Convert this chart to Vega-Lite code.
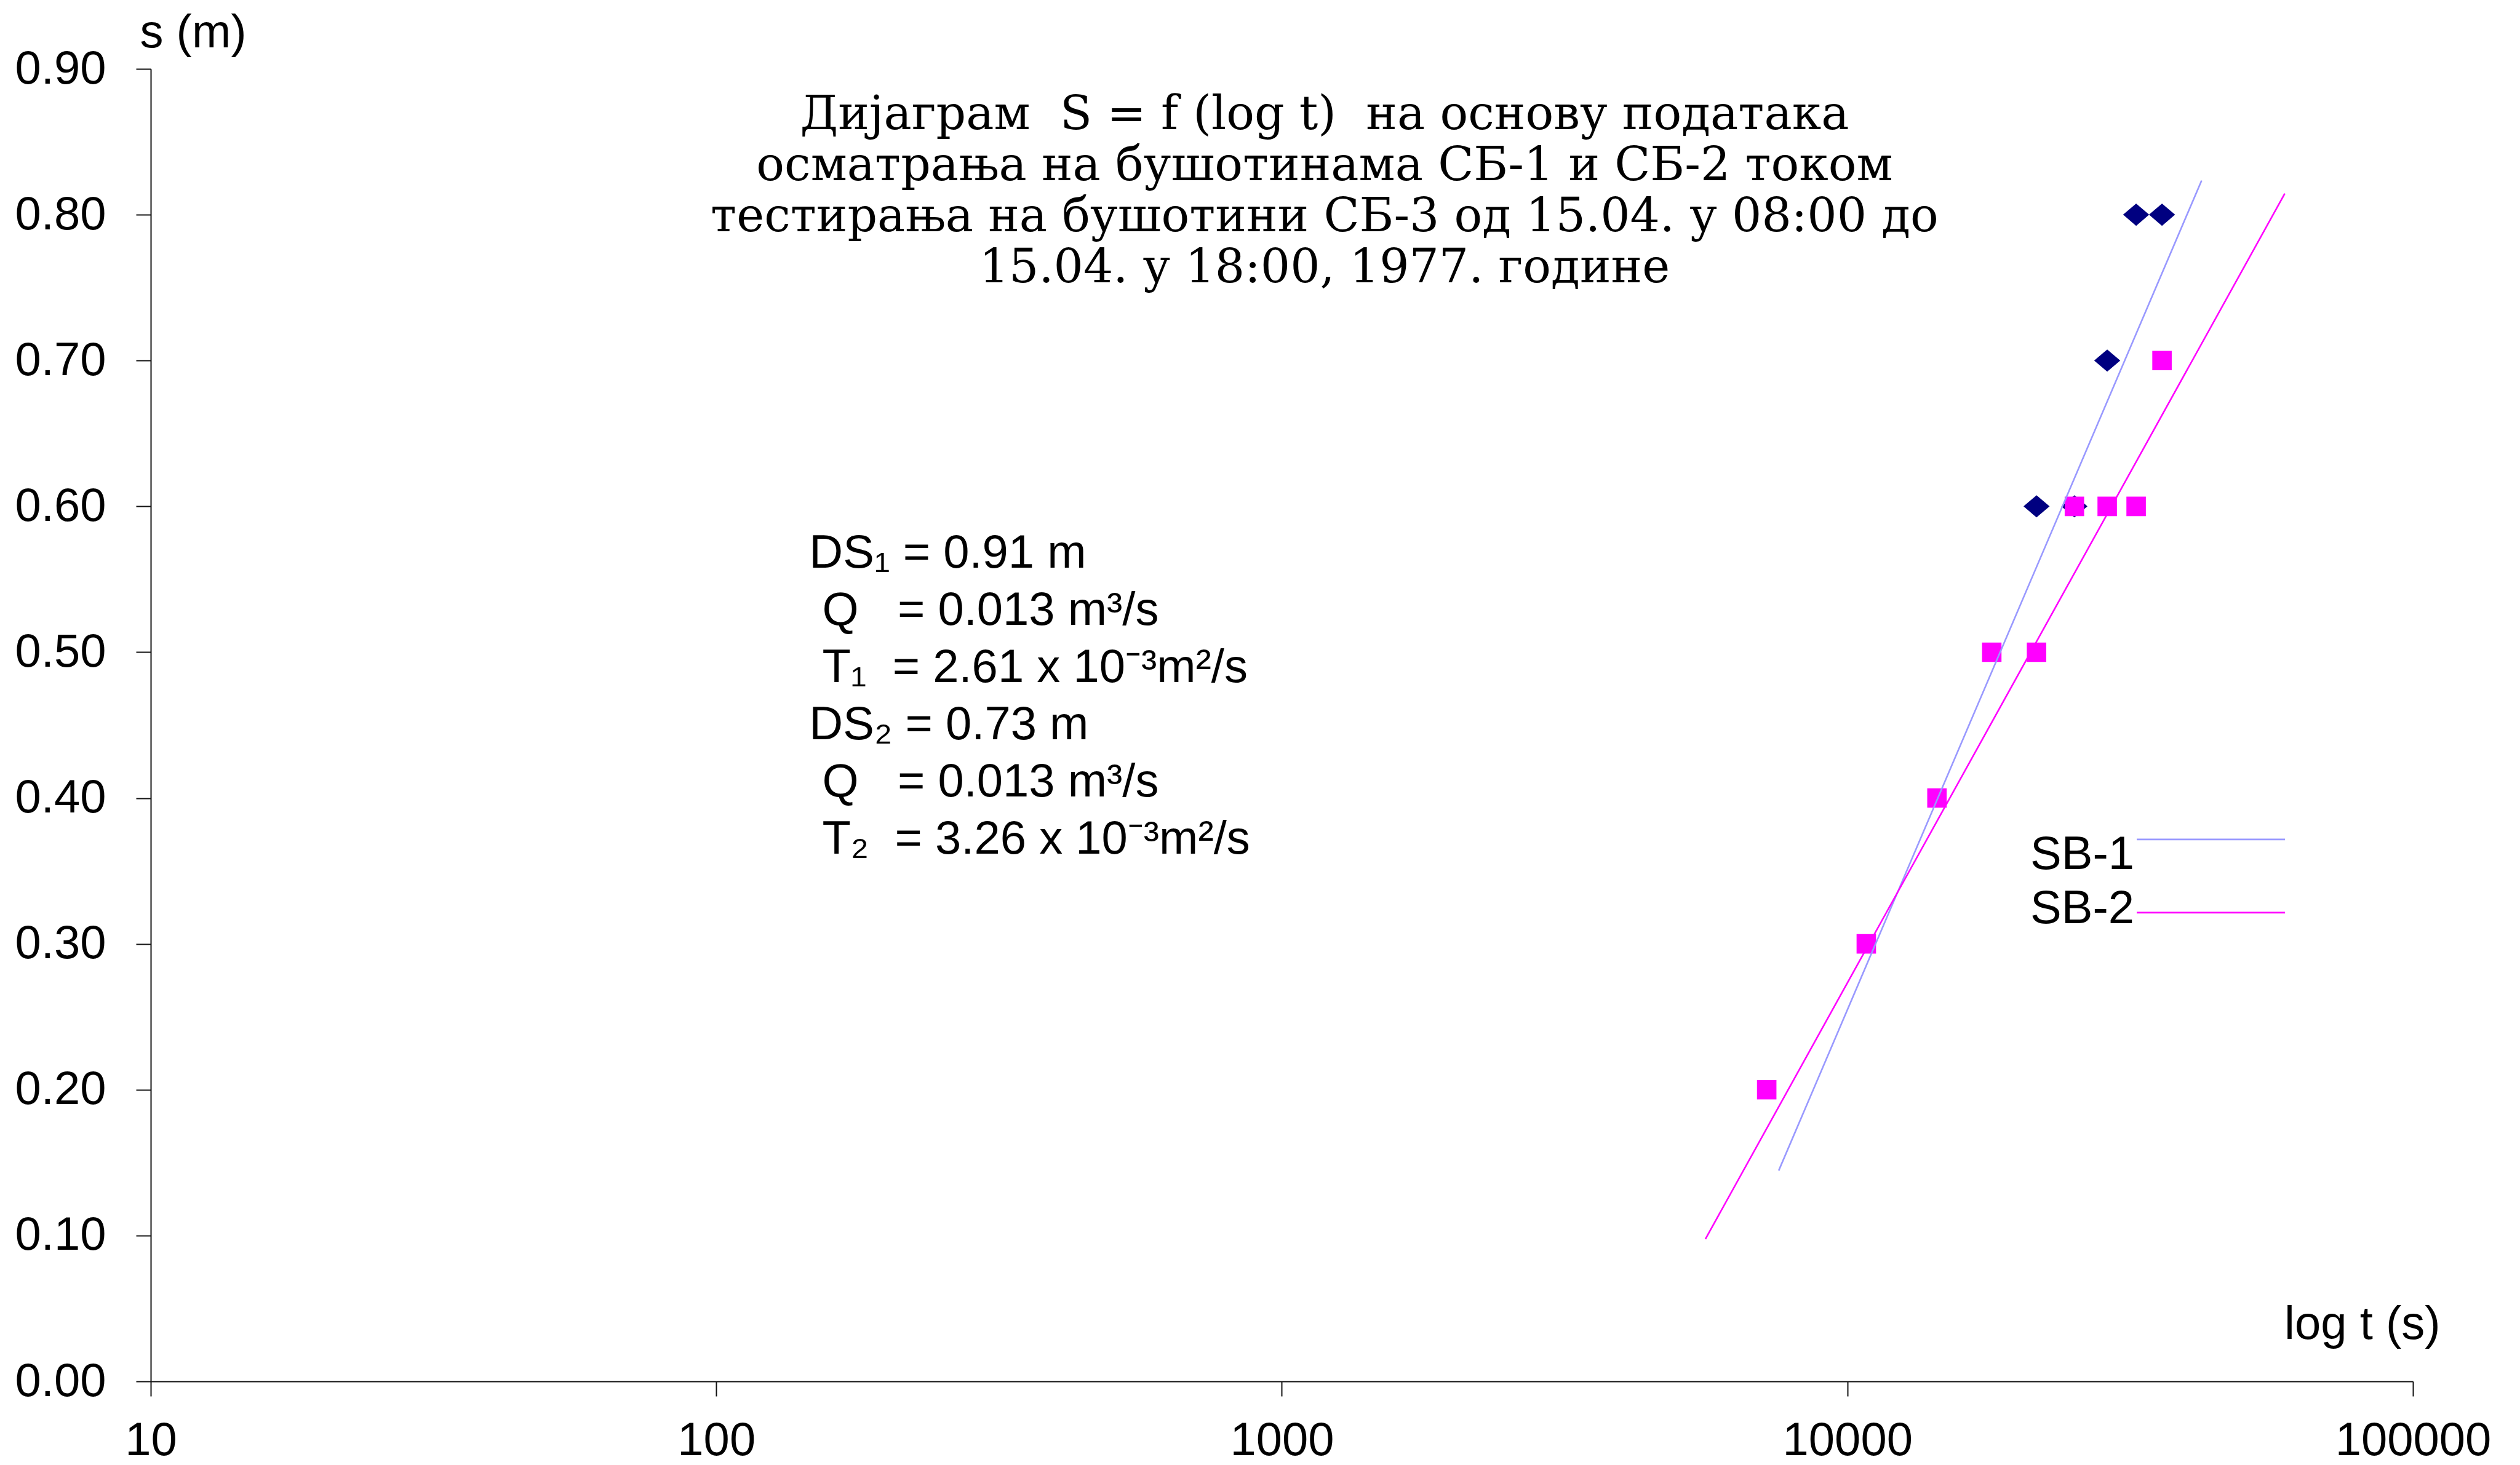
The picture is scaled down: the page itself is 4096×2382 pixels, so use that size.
{
  "$schema": "https://vega.github.io/schema/vega-lite/v6.json",
  "autosize": "none",
  "width": 3677,
  "height": 2134,
  "padding": {"left": 245, "top": 112, "right": 174, "bottom": 136},
  "background": "white",
  "config": {
    "view": {"stroke": null},
    "font": "Liberation Sans",
    "axis": {
      "grid": false,
      "labelFont": "Liberation Sans",
      "labelFontSize": 76,
      "labelColor": "#000000",
      "labelFlush": false,
      "labelOverlap": false,
      "labelLimit": 2000,
      "tickSize": 24,
      "tickColor": "#111111",
      "tickWidth": 2,
      "domainColor": "#111111",
      "domainWidth": 2,
      "titleFont": "Liberation Sans",
      "titleFontSize": 76,
      "titleFontWeight": "normal",
      "titleColor": "#000000",
      "titleLimit": 2000
    }
  },
  "datasets": {
    "points": [
      {"well": "SB-1", "t": 21600, "s": 0.6},
      {"well": "SB-1", "t": 25200, "s": 0.6},
      {"well": "SB-1", "t": 28800, "s": 0.7},
      {"well": "SB-1", "t": 32400, "s": 0.8},
      {"well": "SB-1", "t": 36000, "s": 0.8},
      {"well": "SB-2", "t": 7200, "s": 0.2},
      {"well": "SB-2", "t": 10800, "s": 0.3},
      {"well": "SB-2", "t": 14400, "s": 0.4},
      {"well": "SB-2", "t": 18000, "s": 0.5},
      {"well": "SB-2", "t": 21600, "s": 0.5},
      {"well": "SB-2", "t": 25200, "s": 0.6},
      {"well": "SB-2", "t": 28800, "s": 0.6},
      {"well": "SB-2", "t": 32400, "s": 0.6},
      {"well": "SB-2", "t": 36000, "s": 0.7}
    ],
    "trend": [
      {"line": "SB-1", "t": 7560, "s": 0.1445},
      {"line": "SB-1", "t": 42300, "s": 0.8235},
      {"line": "SB-2", "t": 5610, "s": 0.0976},
      {"line": "SB-2", "t": 59350, "s": 0.8145}
    ],
    "one": [{}]
  },
  "layer": [
    {
      "data": {"name": "points"},
      "mark": {"type": "point", "filled": true, "opacity": 1, "strokeWidth": 0},
      "encoding": {
        "x": {
          "field": "t", "type": "quantitative",
          "scale": {"type": "log", "domain": [10, 100000], "nice": false},
          "axis": {
            "values": [10, 100, 1000, 10000, 100000],
            "format": "d",
            "labelPadding": 35,
            "title": "log t (s)",
            "titleX": 3721,
            "titleY": -70,
            "titleAlign": "right",
            "titleBaseline": "alphabetic"
          }
        },
        "y": {
          "field": "s", "type": "quantitative",
          "scale": {"domain": [0, 0.9], "nice": false, "zero": false},
          "axis": {
            "values": [0, 0.1, 0.2, 0.3, 0.4, 0.5, 0.6, 0.7, 0.8, 0.9],
            "format": ".2f",
            "labelPadding": 49,
            "title": "s (m)",
            "titleAngle": 0,
            "titleX": -18,
            "titleY": -36,
            "titleAlign": "left",
            "titleBaseline": "alphabetic"
          }
        },
        "fill": {
          "field": "well", "type": "nominal",
          "scale": {"domain": ["SB-1", "SB-2"], "range": ["#000080", "#FF00FF"]},
          "legend": null
        },
        "shape": {
          "field": "well", "type": "nominal",
          "scale": {"domain": ["SB-1", "SB-2"], "range": ["M-1,0L0,-0.85L1,0L0,0.85Z", "square"]},
          "legend": null
        },
        "size": {
          "field": "well", "type": "nominal",
          "scale": {"domain": ["SB-1", "SB-2"], "range": [1800, 1000]},
          "legend": null
        }
      }
    },
    {
      "data": {"name": "trend"},
      "mark": {"type": "line", "strokeWidth": 2.6},
      "encoding": {
        "x": {"field": "t", "type": "quantitative"},
        "y": {"field": "s", "type": "quantitative"},
        "stroke": {
          "field": "line", "type": "nominal",
          "scale": {"domain": ["SB-1", "SB-2"], "range": ["#9999FF", "#FF00FF"]},
          "legend": null
        }
      }
    },
    {
      "data": {"name": "one"},
      "mark": {"type": "rule", "stroke": "#9999FF", "strokeWidth": 2.6},
      "encoding": {
        "x": {"datum": 32480, "type": "quantitative"},
        "x2": {"datum": 59390},
        "y": {"datum": 0.3716, "type": "quantitative"}
      }
    },
    {
      "data": {"name": "one"},
      "mark": {"type": "rule", "stroke": "#FF00FF", "strokeWidth": 2.6},
      "encoding": {
        "x": {"datum": 32480, "type": "quantitative"},
        "x2": {"datum": 59390},
        "y": {"datum": 0.3214, "type": "quantitative"}
      }
    },
    {
      "data": {"name": "one"},
      "mark": {"type": "text", "text": "SB-1", "font": "Liberation Sans", "fontSize": 76, "color": "#000000", "align": "left", "baseline": "alphabetic"},
      "encoding": {
        "x": {"datum": 21060, "type": "quantitative"},
        "y": {"datum": 0.3513, "type": "quantitative"}
      }
    },
    {
      "data": {"name": "one"},
      "mark": {"type": "text", "text": "SB-2", "font": "Liberation Sans", "fontSize": 76, "color": "#000000", "align": "left", "baseline": "alphabetic"},
      "encoding": {
        "x": {"datum": 21060, "type": "quantitative"},
        "y": {"datum": 0.3142, "type": "quantitative"}
      }
    },
    {
      "data": {"name": "one"},
      "mark": {
        "type": "text",
        "text": [
          "Дијаграм\u00a0\u00a0S = f (log t)\u00a0\u00a0на основу података",
          "осматрања на бушотинама СБ-1 и СБ-2 током",
          "тестирања на бушотини СБ-3 од 15.04. у 08:00 до",
          "15.04. у 18:00, 1977. године"
        ],
        "font": "DejaVu Serif",
        "fontSize": 76,
        "lineHeight": 83,
        "color": "#000000",
        "align": "center",
        "baseline": "alphabetic"
      },
      "encoding": {
        "x": {"datum": 1190, "type": "quantitative"},
        "y": {"datum": 0.8587, "type": "quantitative"}
      }
    },
    {
      "data": {"name": "one"},
      "mark": {
        "type": "text",
        "text": [
          "DS₁ = 0.91 m",
          "\u200b\u00a0Q\u00a0\u00a0\u00a0= 0.013 m³/s",
          "\u200b\u00a0T₁\u00a0\u00a0= 2.61 x 10⁻³m²/s",
          "DS₂ = 0.73 m",
          "\u200b\u00a0Q\u00a0\u00a0\u00a0= 0.013 m³/s",
          "\u200b\u00a0T₂\u00a0\u00a0= 3.26 x 10⁻³m²/s"
        ],
        "font": "Liberation Sans",
        "fontSize": 76,
        "lineHeight": 93,
        "color": "#000000",
        "align": "left",
        "baseline": "alphabetic"
      },
      "encoding": {
        "x": {"datum": 146, "type": "quantitative"},
        "y": {"datum": 0.558, "type": "quantitative"}
      }
    }
  ]
}
